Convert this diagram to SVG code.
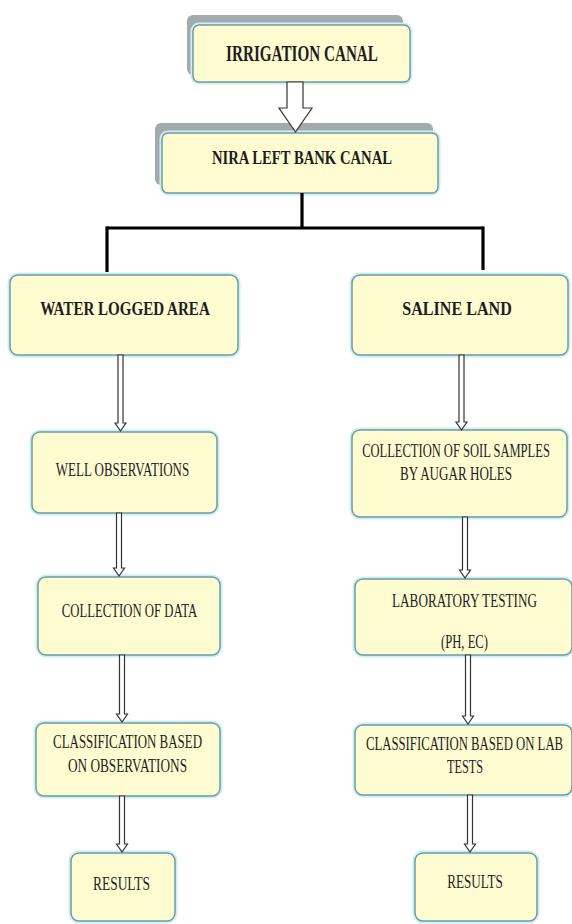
<svg xmlns="http://www.w3.org/2000/svg" width="572" height="924" viewBox="0 0 572 924">
<style>
.glow{fill:none;stroke:#cdeef6;stroke-width:5}
.box{fill:#fffcd2;stroke:#6a9fa3;stroke-width:1.5}
.shadow{fill:#a3aaae}
.t{font-family:"Liberation Serif","Times New Roman",serif;fill:#1e1e1e;text-anchor:middle}
.big{font-size:24px;font-weight:bold}
.mid{font-size:18px;font-weight:bold}
.b{font-size:18px;font-weight:bold}
.n{font-size:18px}
.line{fill:none;stroke:#000;stroke-width:3.2}
.hollow{fill:#fff;stroke:#333;stroke-width:1.2;stroke-linejoin:miter}
</style>
<rect width="572" height="924" fill="#ffffff"/>

<g id="irrigation-canal">
<rect class="shadow" x="187" y="15" width="216" height="60" rx="6"/>
<rect class="glow" x="193" y="25" width="217" height="57" rx="6"/>
<rect class="box" x="193" y="25" width="217" height="57" rx="6"/>
<text class="t big" transform="translate(302 61) scale(0.63 1)" x="0" y="0" textLength="241" lengthAdjust="spacingAndGlyphs">IRRIGATION CANAL</text>
</g>

<g id="nira-left-bank-canal">
<rect class="shadow" x="155" y="123" width="278" height="62" rx="6"/>
<rect class="glow" x="162" y="133" width="276" height="60" rx="6"/>
<rect class="box" x="162" y="133" width="276" height="60" rx="6"/>
<text class="t mid" transform="translate(302 164) scale(0.8 1)" x="0" y="0" textLength="225" lengthAdjust="spacingAndGlyphs">NIRA LEFT BANK CANAL</text>
</g>

<g id="water-logged-area">
<rect class="glow" x="10" y="275" width="228" height="80" rx="8"/>
<rect class="box" x="10" y="275" width="228" height="80" rx="8"/>
<text class="t b" transform="translate(125 315) scale(0.8 1)" x="0" y="0" textLength="212" lengthAdjust="spacingAndGlyphs">WATER LOGGED AREA</text>
</g>

<g id="saline-land">
<rect class="glow" x="352" y="275" width="216" height="80" rx="8"/>
<rect class="box" x="352" y="275" width="216" height="80" rx="8"/>
<text class="t b" transform="translate(457 315) scale(0.8 1)" x="0" y="0" textLength="137" lengthAdjust="spacingAndGlyphs">SALINE LAND</text>
</g>

<g id="well-observations">
<rect class="glow" x="32" y="432" width="185" height="81" rx="8"/>
<rect class="box" x="32" y="432" width="185" height="81" rx="8"/>
<text class="t n" transform="translate(122.5 476) scale(0.68 1)" x="0" y="0" textLength="196" lengthAdjust="spacingAndGlyphs">WELL OBSERVATIONS</text>
</g>

<g id="collection-of-soil-samples">
<rect class="glow" x="352" y="430" width="215" height="87" rx="8"/>
<rect class="box" x="352" y="430" width="215" height="87" rx="8"/>
<text class="t n" transform="translate(456 457) scale(0.68 1)" x="0" y="0" textLength="276" lengthAdjust="spacingAndGlyphs">COLLECTION OF SOIL SAMPLES</text>
<text class="t n" transform="translate(456 480) scale(0.68 1)" x="0" y="0" textLength="165" lengthAdjust="spacingAndGlyphs">BY AUGAR HOLES</text>
</g>

<g id="collection-of-data">
<rect class="glow" x="38" y="577" width="182" height="78" rx="8"/>
<rect class="box" x="38" y="577" width="182" height="78" rx="8"/>
<text class="t n" transform="translate(129.5 617) scale(0.68 1)" x="0" y="0" textLength="199" lengthAdjust="spacingAndGlyphs">COLLECTION OF DATA</text>
</g>

<g id="laboratory-testing">
<rect class="glow" x="355" y="579" width="217" height="76" rx="8"/>
<rect class="box" x="355" y="579" width="217" height="76" rx="8"/>
<text class="t n" transform="translate(464.5 607) scale(0.68 1)" x="0" y="0" textLength="213" lengthAdjust="spacingAndGlyphs">LABORATORY TESTING</text>
<text class="t n" transform="translate(464.5 648) scale(0.68 1)" x="0" y="0" textLength="69" lengthAdjust="spacingAndGlyphs">(PH, EC)</text>
</g>

<g id="classification-observations">
<rect class="glow" x="36" y="723" width="184" height="73" rx="8"/>
<rect class="box" x="36" y="723" width="184" height="73" rx="8"/>
<text class="t n" transform="translate(127.5 748) scale(0.68 1)" x="0" y="0" textLength="219" lengthAdjust="spacingAndGlyphs">CLASSIFICATION BASED</text>
<text class="t n" transform="translate(127.5 772) scale(0.68 1)" x="0" y="0" textLength="175" lengthAdjust="spacingAndGlyphs">ON OBSERVATIONS</text>
</g>

<g id="classification-lab-tests">
<rect class="glow" x="355" y="725" width="217" height="70" rx="8"/>
<rect class="box" x="355" y="725" width="217" height="70" rx="8"/>
<text class="t n" transform="translate(464.5 750) scale(0.68 1)" x="0" y="0" textLength="290" lengthAdjust="spacingAndGlyphs">CLASSIFICATION BASED ON LAB</text>
<text class="t n" transform="translate(465 773) scale(0.68 1)" x="0" y="0" textLength="53" lengthAdjust="spacingAndGlyphs">TESTS</text>
</g>

<g id="results-left">
<rect class="glow" x="71" y="853" width="104" height="68" rx="8"/>
<rect class="box" x="71" y="853" width="104" height="68" rx="8"/>
<text class="t n" transform="translate(121.5 890) scale(0.68 1)" x="0" y="0" textLength="84" lengthAdjust="spacingAndGlyphs">RESULTS</text>
</g>

<g id="results-right">
<rect class="glow" x="415" y="853" width="122" height="68" rx="8"/>
<rect class="box" x="415" y="853" width="122" height="68" rx="8"/>
<text class="t n" transform="translate(475 888) scale(0.68 1)" x="0" y="0" textLength="82" lengthAdjust="spacingAndGlyphs">RESULTS</text>
</g>

<g id="connectors">
<path class="hollow" d="M287,82 L287,108 L279,108 L295.5,132 L312,108 L303,108 L303,82 Z"/>
<path class="line" d="M302,193 L302,228"/>
<path class="line" d="M107,228 L483,228"/>
<path class="line" d="M107,226.4 L107,272"/>
<path class="line" d="M483,226.4 L483,270"/>
<path class="hollow" d="M118,355 L118,423 L115,423 L120.5,431 L126,423 L123,423 L123,355 Z"/>
<path class="hollow" d="M116.5,513 L116.5,568 L113.5,568 L119,576 L124.5,568 L121.5,568 L121.5,513 Z"/>
<path class="hollow" d="M119.5,655 L119.5,714 L116.5,714 L122,722 L127.5,714 L124.5,714 L124.5,655 Z"/>
<path class="hollow" d="M119.5,796 L119.5,844 L116.5,844 L122,852 L127.5,844 L124.5,844 L124.5,796 Z"/>
<path class="hollow" d="M459,355 L459,422 L456,422 L461.5,430 L467,422 L464,422 L464,355 Z"/>
<path class="hollow" d="M462.5,517 L462.5,570 L459.5,570 L465,578 L470.5,570 L467.5,570 L467.5,517 Z"/>
<path class="hollow" d="M465.5,655 L465.5,716 L462.5,716 L468,724 L473.5,716 L470.5,716 L470.5,655 Z"/>
<path class="hollow" d="M467.5,795 L467.5,844 L464.5,844 L470,852 L475.5,844 L472.5,844 L472.5,795 Z"/>
</g>
</svg>
